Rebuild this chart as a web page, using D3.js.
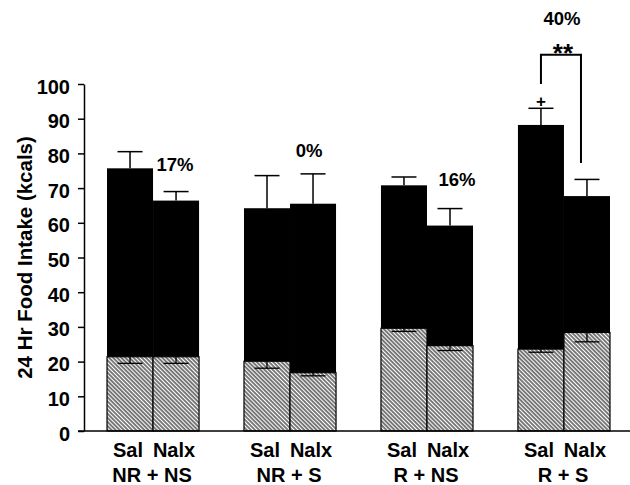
<!DOCTYPE html>
<html>
<head>
<meta charset="utf-8">
<script src="https://cdn.jsdelivr.net/npm/d3@7"></script>
<style>
  body { margin: 0; background: #fff; }
  svg { display: block; font-family: "Liberation Sans", Arial, Helvetica, sans-serif; font-weight: bold; }
</style>
</head>
<body>
<svg id="chart"></svg>
<script>
// Data
const groups = ["NR + NS", "NR + S", "R + NS", "R + S"];
const treatments = ["Sal", "Nalx"];
// total 24 hr intake (top of black bar) and its SEM, order: group x treatment
const totalMean = [75.7, 66.4, 64.2, 65.5, 70.8, 59.2, 88.2, 67.7];
const totalErr = [4.8, 2.6, 9.4, 8.6, 2.4, 4.9, 4.8, 4.8];
// hatched part of the bar and its SEM (drawn downward)
const hatchMean = [21.4, 21.4, 20.1, 16.8, 29.6, 24.6, 23.6, 28.4];
const hatchErr = [1.9, 1.9, 2.0, 0.9, 0.9, 1.4, 0.9, 2.7];
const pctLabels = ["17%", "0%", "16%", "40%"];
const yTicks = [0, 10, 20, 30, 40, 50, 60, 70, 80, 90, 100];

const width = 630;
const height = 485;

const svg = d3.select("#chart").attr("width", width).attr("height", height);

const y = d3.scaleLinear().domain([0, 100]).range([431, 84]);

const x = d3
  .scaleBand()
  .domain(groups)
  .range([84, 633])
  .paddingInner(0.328)
  .paddingOuter(0.168);

const xInner = d3.scaleBand().domain(treatments).range([0, x.bandwidth()]);

// hatch pattern ("\" lines)
const defs = svg.append("defs");
const pattern = defs
  .append("pattern")
  .attr("id", "hatch")
  .attr("patternUnits", "userSpaceOnUse")
  .attr("width", 2.9)
  .attr("height", 2.9)
  .attr("patternTransform", "rotate(-45)");
pattern.append("rect").attr("width", 2.9).attr("height", 2.9).attr("fill", "#fff");
pattern
  .append("line")
  .attr("x1", 1)
  .attr("y1", 0)
  .attr("x2", 1)
  .attr("y2", 2.9)
  .attr("stroke", "#111")
  .attr("stroke-width", 1.1);

// flatten into bar records
const bars = [];
groups.forEach((g, gi) => {
  treatments.forEach((t, ti) => {
    const i = gi * treatments.length + ti;
    bars.push({
      group: g,
      treatment: t,
      total: totalMean[i],
      totalErr: totalErr[i],
      hatch: hatchMean[i],
      hatchErr: hatchErr[i],
      x0: x(g) + xInner(t),
      cx: x(g) + xInner(t) + xInner.bandwidth() / 2
    });
  });
});

const bw = xInner.bandwidth();
const capHalf = 12.5;

// total error bars (upward), drawn under the bars
bars.forEach((d) => {
  svg
    .append("line")
    .attr("x1", d.cx)
    .attr("x2", d.cx)
    .attr("y1", y(d.total))
    .attr("y2", y(d.total + d.totalErr))
    .attr("stroke", "#000")
    .attr("stroke-width", 1.5);
  svg
    .append("line")
    .attr("x1", d.cx - capHalf)
    .attr("x2", d.cx + capHalf)
    .attr("y1", y(d.total + d.totalErr))
    .attr("y2", y(d.total + d.totalErr))
    .attr("stroke", "#000")
    .attr("stroke-width", 1.5);
});

// black upper part
svg
  .selectAll("rect.total")
  .data(bars)
  .enter()
  .append("rect")
  .attr("class", "total")
  .attr("x", (d) => d.x0)
  .attr("width", bw)
  .attr("y", (d) => y(d.total))
  .attr("height", (d) => y(d.hatch) - y(d.total))
  .attr("fill", "#000");

// hatched lower part
svg
  .selectAll("rect.hatch")
  .data(bars)
  .enter()
  .append("rect")
  .attr("class", "hatch")
  .attr("x", (d) => d.x0)
  .attr("width", bw)
  .attr("y", (d) => y(d.hatch))
  .attr("height", (d) => y(0) - y(d.hatch))
  .attr("fill", "url(#hatch)")
  .attr("stroke", "#000")
  .attr("stroke-width", 1.2);

// hatched error bars (downward)
bars.forEach((d) => {
  svg
    .append("line")
    .attr("x1", d.cx)
    .attr("x2", d.cx)
    .attr("y1", y(d.hatch))
    .attr("y2", y(d.hatch - d.hatchErr))
    .attr("stroke", "#000")
    .attr("stroke-width", 1.3);
  svg
    .append("line")
    .attr("x1", d.cx - capHalf)
    .attr("x2", d.cx + capHalf)
    .attr("y1", y(d.hatch - d.hatchErr))
    .attr("y2", y(d.hatch - d.hatchErr))
    .attr("stroke", "#000")
    .attr("stroke-width", 1.3);
});

// y axis
const yAxis = svg
  .append("g")
  .attr("transform", "translate(84,0)")
  .call(d3.axisLeft(y).tickValues(yTicks).tickSize(6).tickSizeOuter(0).tickPadding(8));
yAxis.select(".domain").attr("stroke-width", 1.5);
yAxis.selectAll(".tick line").attr("stroke-width", 1.5);
yAxis
  .selectAll(".tick text")
  .attr("dy", "0.45em")
  .style("font-size", "20px")
  .style("font-weight", "bold")
  .style("font-family", "'Liberation Sans', Arial, sans-serif")
  .attr("fill", "#000");

// baseline
svg
  .append("line")
  .attr("x1", 78)
  .attr("x2", 630)
  .attr("y1", y(0))
  .attr("y2", y(0))
  .attr("stroke", "#000")
  .attr("stroke-width", 1.5);

// y label
svg
  .append("text")
  .attr("transform", `translate(32,${(y(0) + y(100)) / 2}) rotate(-90)`)
  .attr("text-anchor", "middle")
  .style("font-size", "20.5px")
  .text("24 Hr Food Intake (kcals)");

// treatment labels
svg
  .selectAll("text.treat")
  .data(bars)
  .enter()
  .append("text")
  .attr("class", "treat")
  .attr("x", (d) => d.cx - 2)
  .attr("y", 457)
  .attr("text-anchor", "middle")
  .style("font-size", "20px")
  .text((d) => d.treatment);

// group labels
svg
  .selectAll("text.group")
  .data(groups)
  .enter()
  .append("text")
  .attr("class", "group")
  .attr("x", (d) => x(d) + x.bandwidth() / 2 - 1)
  .attr("y", 482)
  .attr("text-anchor", "middle")
  .style("font-size", "20px")
  .text((d) => d);

// percent labels, placed above the Nalx bar of each group
const pctDx = [-1, -4, 7, -25];
const pctY = [75.0, 78.9, 70.5, 117.0];
pctLabels.forEach((p, gi) => {
  const nalx = bars[gi * 2 + 1];
  svg
    .append("text")
    .attr("x", nalx.cx + pctDx[gi])
    .attr("y", y(pctY[gi]))
    .attr("text-anchor", "middle")
    .style("font-size", "18.5px")
    .text(p);
});

// significance bracket on R + S
const sal = bars[6];
const nal = bars[7];
const bracketTop = y(108.4);
svg
  .append("path")
  .attr(
    "d",
    `M${sal.cx},${y(100)}V${bracketTop}H${nal.cx - 6}V${y(77.2)}`
  )
  .attr("fill", "none")
  .attr("stroke", "#000")
  .attr("stroke-width", 2);

svg
  .append("text")
  .attr("x", x("R + S") + x.bandwidth() / 2 - 1)
  .attr("y", 62)
  .attr("text-anchor", "middle")
  .style("font-size", "26px")
  .text("**");

svg
  .append("text")
  .attr("x", sal.cx)
  .attr("y", 107)
  .attr("text-anchor", "middle")
  .style("font-size", "17px")
  .text("+");
</script>
</body>
</html>
